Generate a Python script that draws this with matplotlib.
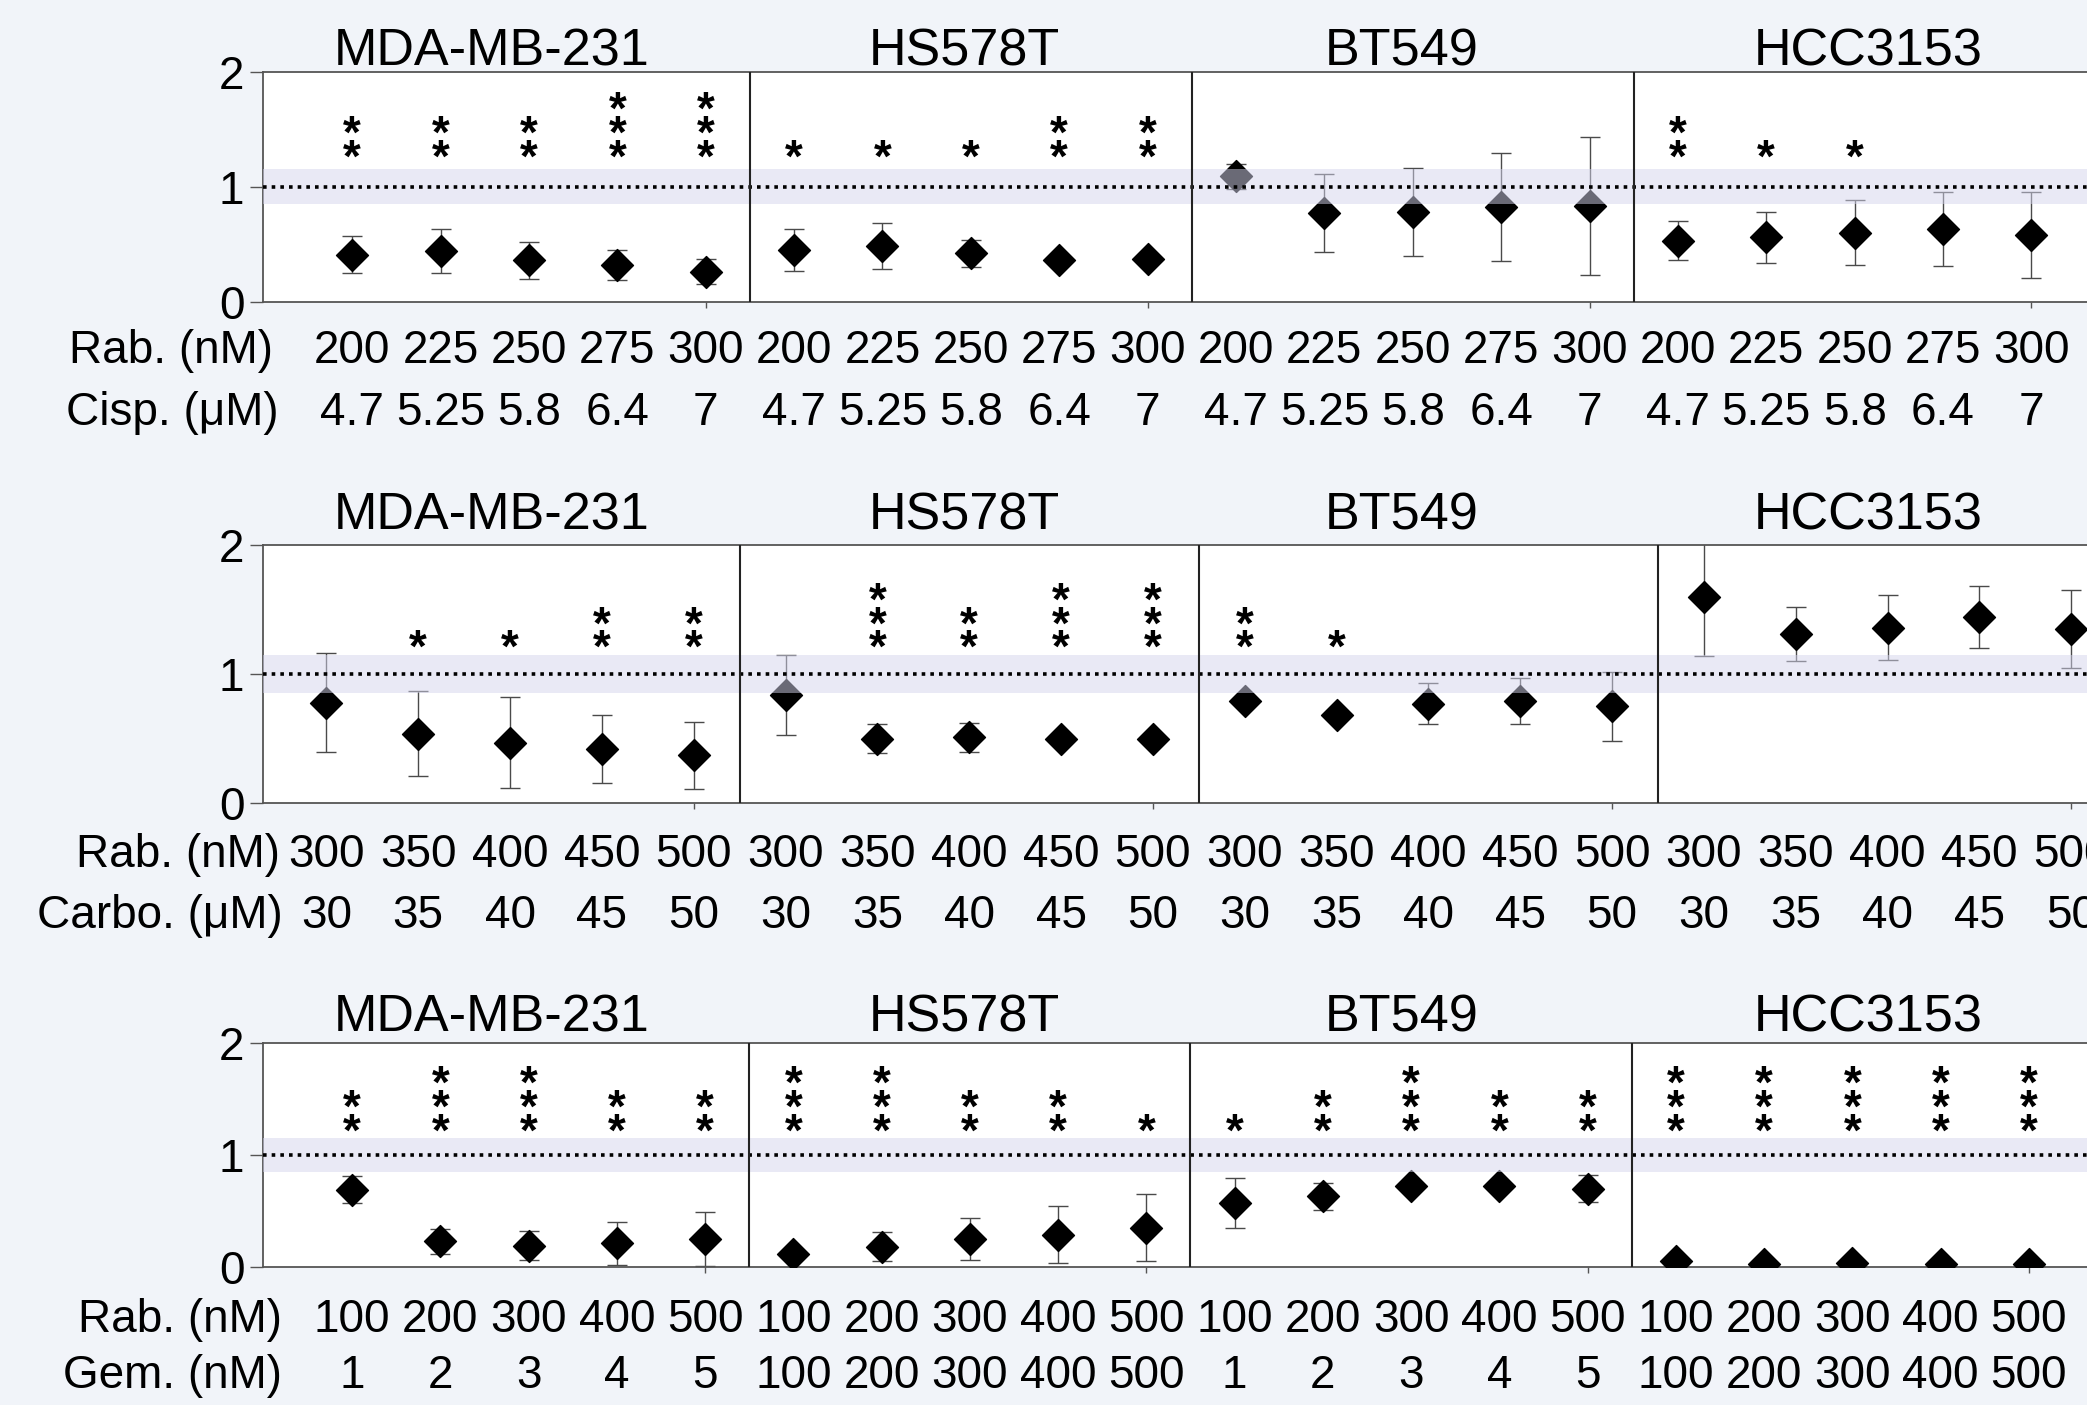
import numpy as np
import matplotlib
matplotlib.use('Agg')
import matplotlib.pyplot as plt
from matplotlib.path import Path

plt.rcParams['font.family'] = ['Liberation Sans', 'DejaVu Sans']

cell_lines = ['MDA-MB-231', 'HS578T', 'BT549', 'HCC3153']

# rabusertib + cisplatin
cisp_rab = ['200', '225', '250', '275', '300']
cisp_dose = ['4.7', '5.25', '5.8', '6.4', '7']
cisp_mean = [0.41, 0.44, 0.36, 0.32, 0.26, 0.45, 0.48, 0.42, 0.36, 0.37,
             1.09, 0.77, 0.78, 0.82, 0.83, 0.53, 0.56, 0.60, 0.63, 0.58]
cisp_err = [0.16, 0.19, 0.16, 0.13, 0.11, 0.18, 0.20, 0.12, 0.03, 0.03,
            0.11, 0.34, 0.38, 0.47, 0.60, 0.17, 0.22, 0.28, 0.32, 0.37]
cisp_stars = [2, 2, 2, 3, 3, 1, 1, 1, 2, 2, 0, 0, 0, 0, 0, 2, 1, 1, 0, 0]

# rabusertib + carboplatin
carbo_rab = ['300', '350', '400', '450', '500']
carbo_dose = ['30', '35', '40', '45', '50']
carbo_mean = [0.78, 0.54, 0.47, 0.42, 0.37, 0.84, 0.50, 0.51, 0.50, 0.50,
              0.79, 0.68, 0.77, 0.79, 0.75, 1.60, 1.31, 1.36, 1.44, 1.35]
carbo_err = [0.38, 0.33, 0.35, 0.26, 0.26, 0.31, 0.11, 0.11, 0.03, 0.03,
             0.03, 0.03, 0.16, 0.18, 0.27, 0.46, 0.21, 0.25, 0.24, 0.30]
carbo_stars = [0, 1, 1, 2, 2, 0, 3, 2, 3, 3, 2, 1, 0, 0, 0, 0, 0, 0, 0, 0]

# rabusertib + gemcitabine (gem dose differs by cell line)
gem_rab = ['100', '200', '300', '400', '500']
gem_dose_low = ['1', '2', '3', '4', '5']
gem_dose_high = ['100', '200', '300', '400', '500']
gem_mean = [0.69, 0.23, 0.19, 0.21, 0.25, 0.12, 0.18, 0.25, 0.29, 0.35,
            0.57, 0.63, 0.72, 0.72, 0.70, 0.05, 0.03, 0.04, 0.03, 0.03]
gem_err = [0.12, 0.11, 0.13, 0.19, 0.24, 0.03, 0.13, 0.19, 0.25, 0.30,
           0.22, 0.12, 0.03, 0.03, 0.12, 0.02, 0.02, 0.02, 0.02, 0.02]
gem_stars = [2, 3, 3, 2, 2, 3, 3, 2, 2, 1, 1, 2, 3, 2, 2, 3, 3, 3, 3, 3]

rows = [
    (cisp_mean, cisp_err, cisp_stars, cisp_rab * 4, cisp_dose * 4, 'Cisp. (μM)'),
    (carbo_mean, carbo_err, carbo_stars, carbo_rab * 4, carbo_dose * 4, 'Carbo. (μM)'),
    (gem_mean, gem_err, gem_stars, gem_rab * 4,
     gem_dose_low + gem_dose_high + gem_dose_low + gem_dose_high, 'Gem. (nM)'),
]

BG = '#f1f4f9'
BAND = (0.83, 0.83, 0.93)
SPINE = '#555555'
FS = 33      # tick / label text
FS_T = 37.5  # cell line titles
FS_S = 33    # asterisks

# layout, in figure fractions / points
ax_pos = [[0.126, 0.7853, 0.8897, 0.1637],
          [0.126, 0.4283, 0.9105, 0.1838],
          [0.126, 0.0982, 0.8884, 0.1596]]
x_left = [-1.01, -0.69, -1.01]
title_y = [0.9537, 0.6228, 0.2655]
title_x = [0.2358, 0.4623, 0.6718, 0.895]
star_base = [1.33, 1.27, 1.29]
lab_off = [(43.9, 88.6), (46.1, 90.0), (46.8, 87.1)]
lab_right = [(7, 11), (12, 14), (14, 14)]

diamond = Path([(0, 1), (1, 0), (0, -1), (-1, 0), (0, 1)],
               [Path.MOVETO, Path.LINETO, Path.LINETO, Path.LINETO, Path.CLOSEPOLY])

fig = plt.figure(figsize=(20.87, 14.05), dpi=100, facecolor=BG)

for r, (mean, err, stars, rab, dose, dose_lab) in enumerate(rows):
    ax = fig.add_axes(ax_pos[r])
    ax.set_facecolor('white')
    n = len(mean)
    x = np.arange(n)
    ax.set_xlim(x_left[r], n)
    ax.set_ylim(0, 2)

    ax.errorbar(x, mean, yerr=err, fmt='none', ecolor='#4a4a4a', elinewidth=1.0,
                capsize=7, capthick=1.0, zorder=2)
    ax.plot(x, mean, ls='none', marker=diamond, ms=23, color='black', zorder=3)
    ax.axhspan(0.85, 1.15, color=BAND, alpha=0.5, lw=0, zorder=4)
    ax.axhline(1, color='black', lw=2.6, ls=(0, (1, 1.4)), zorder=5)
    per = len(rab) // len(cell_lines)
    for k in range(1, len(cell_lines)):
        ax.axvline(k * per - 0.5, color='#222222', lw=1.5, zorder=5)

    # significance asterisks, one stacked text per point
    for i, s in enumerate(stars):
        if s:
            ax.annotate('\n'.join(['*'] * s), xy=(i, star_base[r]), xytext=(0, -23.7),
                        textcoords='offset points', ha='center', va='bottom',
                        multialignment='center', linespacing=0.41,
                        fontsize=FS_S, fontweight='bold', zorder=6)

    # dose labels under each point
    for i in range(n):
        ax.annotate(rab[i], xy=(i, 0), xycoords=('data', 'axes fraction'),
                    xytext=(0, -lab_off[r][0]), textcoords='offset points',
                    ha='center', va='baseline', fontsize=FS, annotation_clip=False)
        ax.annotate(dose[i], xy=(i, 0), xycoords=('data', 'axes fraction'),
                    xytext=(0, -lab_off[r][1]), textcoords='offset points',
                    ha='center', va='baseline', fontsize=FS, annotation_clip=False)
    ax.annotate('Rab. (nM)', xy=(0, 0), xycoords='axes fraction',
                xytext=(lab_right[r][0], -lab_off[r][0]), textcoords='offset points',
                ha='right', va='baseline', fontsize=FS)
    ax.annotate(dose_lab, xy=(0, 0), xycoords='axes fraction',
                xytext=(lab_right[r][1], -lab_off[r][1]), textcoords='offset points',
                ha='right', va='baseline', fontsize=FS)

    ax.set_xticks([])
    ax.set_xticks(x[per - 1::per], minor=True)
    ax.tick_params(axis='x', which='minor', length=4, width=1, color=SPINE)
    ax.set_yticks([0, 1, 2])
    ax.tick_params(axis='y', length=9.4, width=1, color=SPINE, pad=4, labelsize=FS)
    ax.spines['right'].set_visible(False)
    for sp in ['left', 'bottom', 'top']:
        ax.spines[sp].set_color(SPINE)
        ax.spines[sp].set_linewidth(1.3)

    for c, name in enumerate(cell_lines):
        fig.text(title_x[c], title_y[r], name, ha='center', va='baseline', fontsize=FS_T)

fig.savefig('out.png', dpi=100, facecolor=BG)
